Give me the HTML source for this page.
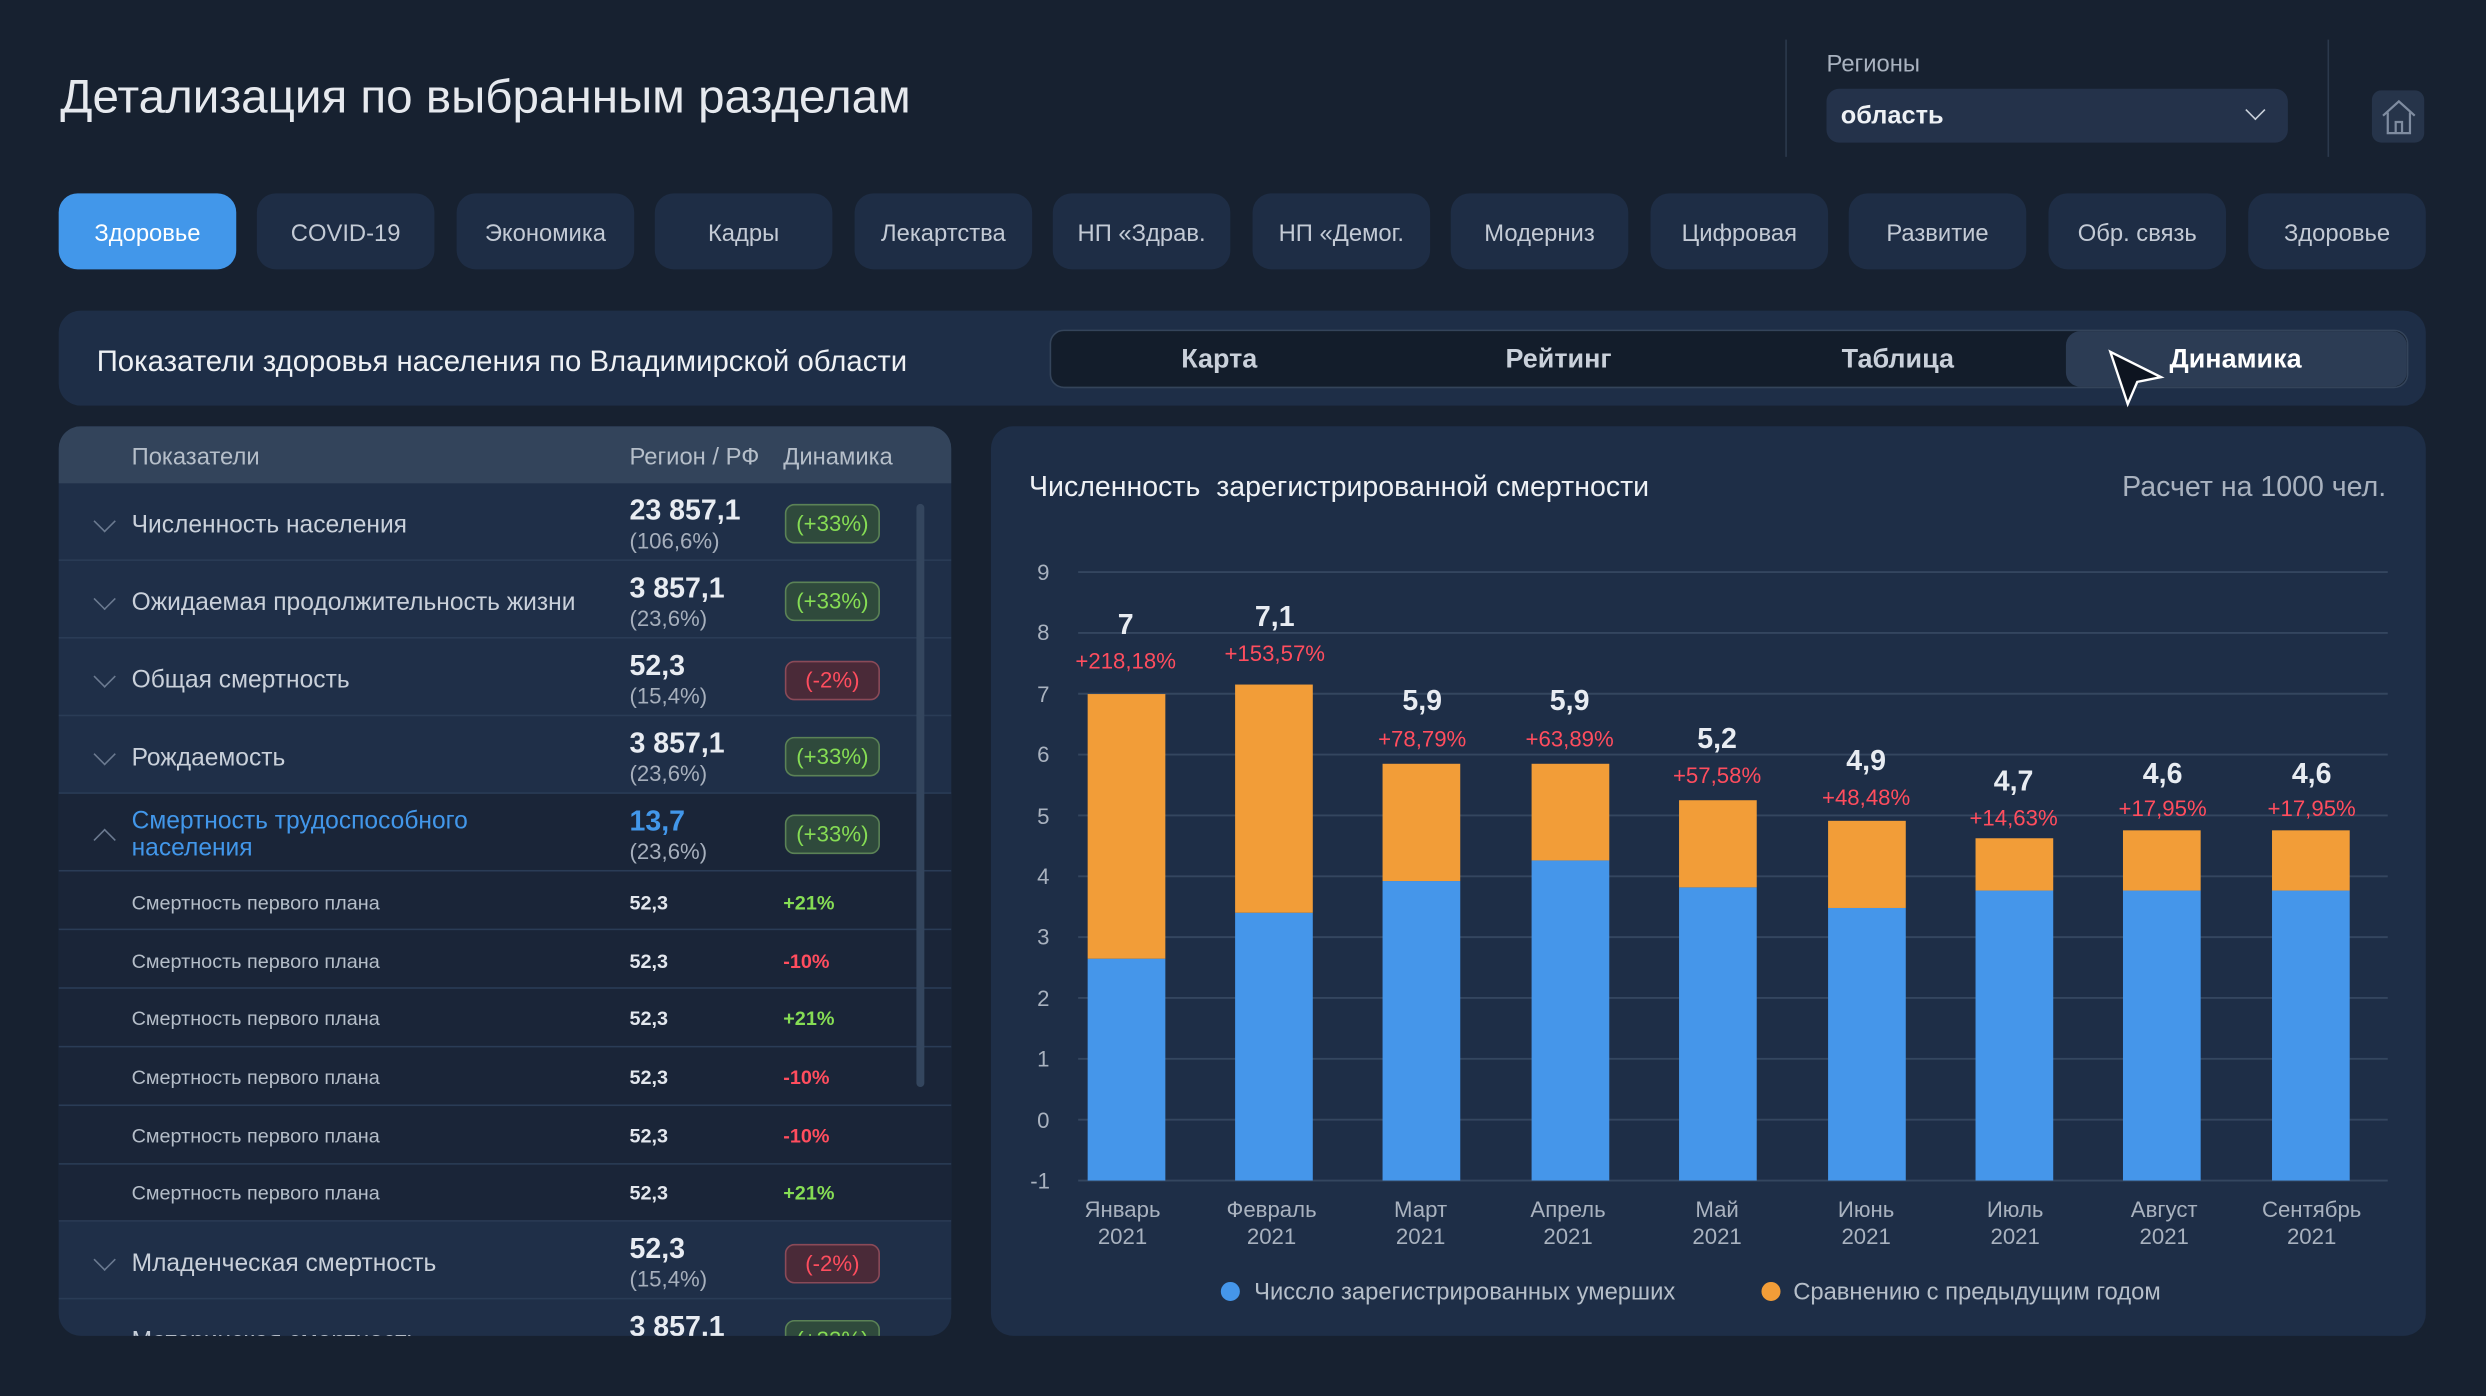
<!DOCTYPE html>
<html><head><meta charset="utf-8"><style>
html,body{margin:0;padding:0;background:#172130;overflow:hidden}
body{width:2486px;height:1396px}
#s{position:absolute;left:0;top:0;width:1568px;height:881px;transform:scale(1.5855,1.5846);transform-origin:0 0;font-family:"Liberation Sans","DejaVu Sans",sans-serif;color:#e3e7ee;background:#172130}
.a{position:absolute;white-space:nowrap}
.tab{position:absolute;top:122px;width:112px;height:48px;border-radius:12px;background:#1e2d45;color:#c3cad5;font-size:15px;line-height:52px;text-align:center}
.row{position:absolute;left:0;width:563px;border-bottom:1.5px solid #2a3c56}
.badge{position:absolute;left:458px;width:58px;height:23px;border-radius:6px;font-size:14px;line-height:23px;text-align:center}
.g{background:#2f4a3c;border:1.5px solid #5b8256;color:#86dd54}
.r{background:#4a2a38;border:1.5px solid #8a4a58;color:#ff4d5e}
.chev{position:absolute;left:24px;width:9px;height:9px;border-right:1.3px solid #6b7a90;border-bottom:1.3px solid #6b7a90;transform:rotate(45deg)}
.big{position:absolute;left:360px;font-size:18px;font-weight:bold;color:#e8ecf2}
.sm{position:absolute;left:360px;font-size:14px;color:#a6afbc}
</style></head><body><div id="s">
<div class="a" style="left:38px;top:45px;font-size:30px;color:#e6e9ee">Детализация по выбранным разделам</div>
<div class="a" style="left:1126px;top:25px;width:1px;height:74px;background:#2c394c"></div>
<div class="a" style="left:1468px;top:25px;width:1px;height:74px;background:#2c394c"></div>
<div class="a" style="left:1152px;top:32px;font-size:15px;color:#a9b2bf">Регионы</div>
<div class="a" style="left:1152px;top:56px;width:291px;height:34px;border-radius:8px;background:#24324a"></div>
<div class="a" style="left:1161px;top:65px;font-size:16px;font-weight:bold;color:#eef1f5">область</div>
<div class="a" style="left:1418px;top:65px;width:8px;height:8px;border-right:1.5px solid #c9d0da;border-bottom:1.5px solid #c9d0da;transform:rotate(45deg)"></div>
<div class="a" style="left:1496px;top:57px;width:33px;height:33px;border-radius:6px;background:#26344a"></div>
<svg class="a" style="left:1500px;top:60px" width="26" height="27" viewBox="0 0 26 27"><path d="M3 13 L13 4 L23 13 M6 11 V24 H20 V11 M11 24 V17 H15 V24" fill="none" stroke="#7f8ca0" stroke-width="1.4"/></svg>

<div class="tab" style="left:37px;background:#4297ea;color:#fff">Здоровье</div>
<div class="tab" style="left:162px">COVID-19</div>
<div class="tab" style="left:288px">Экономика</div>
<div class="tab" style="left:413px">Кадры</div>
<div class="tab" style="left:539px">Лекартства</div>
<div class="tab" style="left:664px">НП «Здрав.</div>
<div class="tab" style="left:790px">НП «Демог.</div>
<div class="tab" style="left:915px">Модерниз</div>
<div class="tab" style="left:1041px">Цифровая</div>
<div class="tab" style="left:1166px">Развитие</div>
<div class="tab" style="left:1292px">Обр. связь</div>
<div class="tab" style="left:1418px">Здоровье</div>

<div class="a" style="left:37px;top:196px;width:1493px;height:60px;border-radius:14px;background:#1e2e47"></div>
<div class="a" style="left:61px;top:217px;font-size:18.5px;color:#eef1f5">Показатели здоровья населения по Владимирской области</div>
<div class="a" style="left:662px;top:208px;width:855px;height:35px;border-radius:9px;background:#131d2b;border:1px solid #34445a"></div>
<div class="a" style="left:1303px;top:209px;width:215px;height:35px;border-radius:9px;background:#2c3c54"></div>
<div class="a" style="left:662px;top:217px;width:214px;text-align:center;font-size:17px;font-weight:bold;color:#c9d0da">Карта</div>
<div class="a" style="left:876px;top:217px;width:214px;text-align:center;font-size:17px;font-weight:bold;color:#c9d0da">Рейтинг</div>
<div class="a" style="left:1090px;top:217px;width:214px;text-align:center;font-size:17px;font-weight:bold;color:#c9d0da">Таблица</div>
<div class="a" style="left:1303px;top:217px;width:214px;text-align:center;font-size:17px;font-weight:bold;color:#fff">Динамика</div>
<svg class="a" style="left:1328px;top:219px" width="40" height="40"><path d="M3 3 L35 19 L20 22 L14 36 Z" fill="#0d1420" stroke="#fff" stroke-width="1.5"/></svg>

<div class="a" style="left:37px;top:269px;width:563px;height:574px;border-radius:14px;overflow:hidden;background:#1f2f48">
<div class="row" style="top:0;height:36px;background:#33445b;border:none"></div>
<div class="a" style="left:46px;top:11px;font-size:15px;color:#b5bec9">Показатели</div>
<div class="a" style="left:360px;top:11px;font-size:15px;color:#b5bec9">Регион / РФ</div>
<div class="a" style="left:457px;top:11px;font-size:15px;color:#b5bec9">Динамика</div>

<div class="row" style="top:36px;height:48px"></div>
<div class="chev" style="top:55px"></div><div class="a" style="left:46px;top:54px;font-size:15.5px;color:#c9d0da">Численность населения</div>
<div class="big" style="top:43px">23 857,1</div><div class="sm" style="top:64px">(106,6%)</div><div class="badge g" style="top:49px">(+33%)</div>

<div class="row" style="top:85px;height:48px"></div>
<div class="chev" style="top:104px"></div><div class="a" style="left:46px;top:103px;font-size:15.5px;color:#c9d0da">Ожидаемая продолжительность жизни</div>
<div class="big" style="top:92px">3 857,1</div><div class="sm" style="top:113px">(23,6%)</div><div class="badge g" style="top:98px">(+33%)</div>

<div class="row" style="top:134px;height:48px"></div>
<div class="chev" style="top:153px"></div><div class="a" style="left:46px;top:152px;font-size:15.5px;color:#c9d0da">Общая смертность</div>
<div class="big" style="top:141px">52,3</div><div class="sm" style="top:162px">(15,4%)</div><div class="badge r" style="top:148px">(-2%)</div>

<div class="row" style="top:183px;height:48px"></div>
<div class="chev" style="top:202px"></div><div class="a" style="left:46px;top:201px;font-size:15.5px;color:#c9d0da">Рождаемость</div>
<div class="big" style="top:190px">3 857,1</div><div class="sm" style="top:211px">(23,6%)</div><div class="badge g" style="top:196px">(+33%)</div>

<div class="a" style="left:0;top:232px;width:563px;height:270px;background:#1a2538"></div>
<div class="row" style="top:232px;height:48px"></div>
<div class="a" style="left:24px;top:256px;width:9px;height:9px;border-left:1.3px solid #6b7a90;border-top:1.3px solid #6b7a90;transform:rotate(45deg)"></div>
<div class="a" style="left:46px;top:241px;font-size:15.5px;color:#4297ea;line-height:17px">Смертность трудоспособного<br>населения</div>
<div class="big" style="top:239px;color:#4297ea">13,7</div><div class="sm" style="top:260px">(23,6%)</div><div class="badge g" style="top:245px">(+33%)</div>

<div class="row" style="top:281px;height:36px"></div>
<div class="row" style="top:318px;height:36px"></div>
<div class="row" style="top:355px;height:36px"></div>
<div class="row" style="top:392px;height:36px"></div>
<div class="row" style="top:429px;height:36px"></div>
<div class="row" style="top:465px;height:36px"></div>
<div class="a" style="left:46px;top:294px;font-size:12.5px;color:#b5bec9">Смертность первого плана</div><div class="a" style="left:360px;top:294px;font-size:12.5px;font-weight:bold">52,3</div><div class="a" style="left:457px;top:294px;font-size:12.5px;font-weight:bold;color:#86dd54">+21%</div>
<div class="a" style="left:46px;top:331px;font-size:12.5px;color:#b5bec9">Смертность первого плана</div><div class="a" style="left:360px;top:331px;font-size:12.5px;font-weight:bold">52,3</div><div class="a" style="left:457px;top:331px;font-size:12.5px;font-weight:bold;color:#ff4d5e">-10%</div>
<div class="a" style="left:46px;top:367px;font-size:12.5px;color:#b5bec9">Смертность первого плана</div><div class="a" style="left:360px;top:367px;font-size:12.5px;font-weight:bold">52,3</div><div class="a" style="left:457px;top:367px;font-size:12.5px;font-weight:bold;color:#86dd54">+21%</div>
<div class="a" style="left:46px;top:404px;font-size:12.5px;color:#b5bec9">Смертность первого плана</div><div class="a" style="left:360px;top:404px;font-size:12.5px;font-weight:bold">52,3</div><div class="a" style="left:457px;top:404px;font-size:12.5px;font-weight:bold;color:#ff4d5e">-10%</div>
<div class="a" style="left:46px;top:441px;font-size:12.5px;color:#b5bec9">Смертность первого плана</div><div class="a" style="left:360px;top:441px;font-size:12.5px;font-weight:bold">52,3</div><div class="a" style="left:457px;top:441px;font-size:12.5px;font-weight:bold;color:#ff4d5e">-10%</div>
<div class="a" style="left:46px;top:477px;font-size:12.5px;color:#b5bec9">Смертность первого плана</div><div class="a" style="left:360px;top:477px;font-size:12.5px;font-weight:bold">52,3</div><div class="a" style="left:457px;top:477px;font-size:12.5px;font-weight:bold;color:#86dd54">+21%</div>

<div class="row" style="top:502px;height:48px"></div>
<div class="chev" style="top:521px"></div><div class="a" style="left:46px;top:520px;font-size:15.5px;color:#c9d0da">Младенческая смертность</div>
<div class="big" style="top:509px">52,3</div><div class="sm" style="top:530px">(15,4%)</div><div class="badge r" style="top:516px">(-2%)</div>
<div class="chev" style="top:570px"></div><div class="a" style="left:46px;top:569px;font-size:15.5px;color:#c9d0da">Материнская смертность</div>
<div class="big" style="top:558px">3 857,1</div><div class="badge g" style="top:564px">(+33%)</div>
<div class="a" style="left:541px;top:49px;width:5px;height:368px;border-radius:3px;background:#34465e"></div>
</div>

<div class="a" style="left:625px;top:269px;width:905px;height:574px;border-radius:14px;background:#1e2e47"></div>
<div class="a" style="left:649px;top:297px;font-size:18px;color:#eef1f5">Численность&nbsp; зарегистрированной смертности</div>
<div class="a" style="left:1305px;top:297px;width:200px;text-align:right;font-size:18px;color:#a9b2bf">Расчет на 1000 чел.</div>
<svg class="a" style="left:0;top:0" width="1568" height="881" font-family="Liberation Sans, DejaVu Sans, sans-serif">
<g stroke="#34465f" stroke-width="1.2">
<line x1="680" x2="1506" y1="361" y2="361"/><line x1="680" x2="1506" y1="399.4" y2="399.4"/><line x1="680" x2="1506" y1="437.8" y2="437.8"/><line x1="680" x2="1506" y1="476.2" y2="476.2"/><line x1="680" x2="1506" y1="514.6" y2="514.6"/><line x1="680" x2="1506" y1="553" y2="553"/><line x1="680" x2="1506" y1="591.4" y2="591.4"/><line x1="680" x2="1506" y1="629.8" y2="629.8"/><line x1="680" x2="1506" y1="668.2" y2="668.2"/><line x1="680" x2="1506" y1="706.6" y2="706.6"/><line x1="680" x2="1506" y1="745" y2="745"/>
</g>
<g fill="#a9b2bf" font-size="14" text-anchor="middle">
<text x="658" y="366">9</text><text x="658" y="404">8</text><text x="658" y="443">7</text><text x="658" y="481">6</text><text x="658" y="520">5</text><text x="658" y="558">4</text><text x="658" y="596">3</text><text x="658" y="635">2</text><text x="658" y="673">1</text><text x="658" y="712">0</text><text x="656" y="750">-1</text>
</g>
<g fill="#4596ea">
<rect x="686" y="605" width="49" height="140"/><rect x="779" y="576" width="49" height="169"/><rect x="872" y="556" width="49" height="189"/><rect x="966" y="543" width="49" height="202"/><rect x="1059" y="560" width="49" height="185"/><rect x="1153" y="573" width="49" height="172"/><rect x="1246" y="562" width="49" height="183"/><rect x="1339" y="562" width="49" height="183"/><rect x="1433" y="562" width="49" height="183"/>
</g>
<g fill="#f29d38">
<rect x="686" y="438" width="49" height="167"/><rect x="779" y="432" width="49" height="144"/><rect x="872" y="482" width="49" height="74"/><rect x="966" y="482" width="49" height="61"/><rect x="1059" y="505" width="49" height="55"/><rect x="1153" y="518" width="49" height="55"/><rect x="1246" y="529" width="49" height="33"/><rect x="1339" y="524" width="49" height="38"/><rect x="1433" y="524" width="49" height="38"/>
</g>
<g fill="#e8ecf2" font-size="18" font-weight="bold" text-anchor="middle">
<text x="710" y="400">7</text><text x="804" y="395">7,1</text><text x="897" y="448">5,9</text><text x="990" y="448">5,9</text><text x="1083" y="472">5,2</text><text x="1177" y="486">4,9</text><text x="1270" y="499">4,7</text><text x="1364" y="494">4,6</text><text x="1458" y="494">4,6</text>
</g>
<g fill="#ff4d5e" font-size="14" text-anchor="middle">
<text x="710" y="422">+218,18%</text><text x="804" y="417">+153,57%</text><text x="897" y="471">+78,79%</text><text x="990" y="471">+63,89%</text><text x="1083" y="494">+57,58%</text><text x="1177" y="508">+48,48%</text><text x="1270" y="521">+14,63%</text><text x="1364" y="515">+17,95%</text><text x="1458" y="515">+17,95%</text>
</g>
<g fill="#a9b2bf" font-size="14" text-anchor="middle">
<text x="708" y="768">Январь</text><text x="708" y="785">2021</text>
<text x="802" y="768">Февраль</text><text x="802" y="785">2021</text>
<text x="896" y="768">Март</text><text x="896" y="785">2021</text>
<text x="989" y="768">Апрель</text><text x="989" y="785">2021</text>
<text x="1083" y="768">Май</text><text x="1083" y="785">2021</text>
<text x="1177" y="768">Июнь</text><text x="1177" y="785">2021</text>
<text x="1271" y="768">Июль</text><text x="1271" y="785">2021</text>
<text x="1365" y="768">Август</text><text x="1365" y="785">2021</text>
<text x="1458" y="768">Сентябрь</text><text x="1458" y="785">2021</text>
</g>
<circle cx="776" cy="815" r="6" fill="#4596ea"/><text x="791" y="820" font-size="15" fill="#b5bec9">Чиссло зарегистрированных умерших</text>
<circle cx="1117" cy="815" r="6" fill="#f29d38"/><text x="1131" y="820" font-size="15" fill="#b5bec9">Сравнению с предыдущим годом</text>
</svg>
</div></body></html>
